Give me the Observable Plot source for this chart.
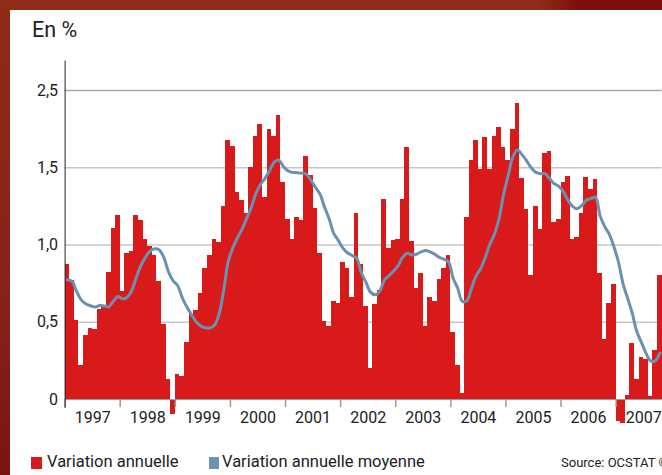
<!DOCTYPE html>
<html><head><meta charset="utf-8">
<script src="https://cdn.jsdelivr.net/npm/d3@7"></script>
<script src="https://cdn.jsdelivr.net/npm/@observablehq/plot@0.6"></script>
<style>
html,body{margin:0;padding:0;overflow:hidden;}
body{width:662px;height:475px;position:relative;background:#fff;font-family:Roboto,sans-serif;color:#222;}
#topbar{position:absolute;left:0;top:0;width:662px;height:10px;background:linear-gradient(to right,#8f2b17 0,#8f2b17 540px,#7c0e0c 580px,#7c0e0c 662px);}
#leftbar{position:absolute;left:0;top:0;width:10px;height:475px;background:linear-gradient(to bottom,#8f2b17 0,#88221a 60%,#7a1411 100%);}
#title{position:absolute;left:32px;top:17px;font-size:21.5px;line-height:26px;white-space:nowrap;}
#chart{position:absolute;left:0;top:50px;}
.leg{position:absolute;top:452px;font-size:16.5px;line-height:20px;white-space:nowrap;}
.sw{position:absolute;top:457px;width:11px;height:12px;}
#source{position:absolute;left:561px;top:455px;font-size:13px;line-height:16px;white-space:nowrap;}
</style>
</head><body>
<div id="topbar"></div>
<div id="leftbar"></div>
<div id="title">En %</div>
<div id="chart"></div>
<div class="sw" style="left:31px;background:#d91a1b"></div>
<div class="leg" style="left:47px">Variation annuelle</div>
<div class="sw" style="left:209px;width:10px;background:#6d93b3"></div>
<div class="leg" style="left:222px">Variation annuelle moyenne</div>
<div id="source">Source: OCSTAT ©</div>
<script>
// Monthly annual variation, Jan 1997 – Oct 2007 (%)
const v1997 = [0.874, 0.77, 0.511, 0.22, 0.414, 0.457, 0.451, 0.58, 0.60, 0.82, 1.107, 1.19];
const v1998 = [0.70, 0.943, 0.956, 1.19, 1.16, 1.036, 0.99, 0.934, 0.764, 0.485, 0.13, -0.095];
const v1999 = [0.16, 0.147, 0.369, 0.55, 0.576, 0.686, 0.848, 0.932, 1.036, 1.016, 1.25, 1.676];
const v2000 = [1.637, 1.34, 1.288, 1.206, 1.50, 1.70, 1.78, 1.31, 1.745, 1.70, 1.84, 1.405];
const v2001 = [1.165, 1.036, 1.178, 1.16, 1.573, 1.45, 1.236, 0.945, 0.505, 0.472, 0.634, 0.62];
const v2002 = [0.887, 0.848, 0.66, 1.204, 0.874, 0.60, 0.20, 0.615, 0.705, 1.294, 0.977, 1.03];
const v2003 = [1.036, 1.294, 1.63, 1.023, 0.718, 0.815, 0.472, 0.66, 0.634, 0.777, 0.848, 0.932];
const v2004 = [0.434, 0.22, 0.04, 1.178, 1.547, 1.676, 1.49, 1.696, 1.49, 1.70, 1.76, 1.63];
const v2005 = [1.547, 1.75, 1.916, 1.428, 1.23, 0.80, 1.25, 1.10, 1.592, 1.605, 1.148, 1.165];
const v2006 = [1.404, 1.445, 1.036, 1.049, 1.206, 1.437, 1.357, 1.424, 0.815, 0.388, 0.621, 0.744];
const v2007 = [-0.14, -0.153, 0.026, 0.362, 0.13, 0.272, 0.259, 0.02, 0.317, 0.80];

// Average annual variation (moving average), same months
const avg = [
  0.775, 0.764, 0.70, 0.645, 0.62, 0.607, 0.598, 0.608, 0.606, 0.60, 0.636, 0.667,
  0.652, 0.662, 0.705, 0.79, 0.867, 0.92, 0.96, 0.975, 0.968, 0.92, 0.828, 0.77,
  0.738, 0.66, 0.60, 0.55, 0.505, 0.475, 0.464, 0.462, 0.48, 0.55, 0.70, 0.89,
  0.98, 1.045, 1.10, 1.17, 1.24, 1.33, 1.39, 1.43, 1.48, 1.535, 1.55, 1.51,
  1.48, 1.47, 1.468, 1.465, 1.46, 1.42, 1.375, 1.33, 1.245, 1.17, 1.075, 1.03,
  0.98, 0.95, 0.932, 0.915, 0.82, 0.76, 0.695, 0.678, 0.70, 0.77, 0.80, 0.83,
  0.865, 0.92, 0.947, 0.935, 0.94, 0.955, 0.965, 0.955, 0.94, 0.92, 0.908, 0.89,
  0.785, 0.72, 0.635, 0.64, 0.72, 0.80, 0.847, 0.92, 1.005, 1.07, 1.17, 1.33,
  1.45, 1.57, 1.615, 1.585, 1.545, 1.50, 1.47, 1.462, 1.462, 1.43, 1.397, 1.38,
  1.345, 1.29, 1.25, 1.235, 1.255, 1.29, 1.30, 1.31, 1.19, 1.12, 1.07, 0.99,
  0.89, 0.75, 0.655, 0.56, 0.44, 0.37, 0.30, 0.25, 0.25, 0.30
];

const years = ["1997","1998","1999","2000","2001","2002","2003","2004","2005","2006","2007"];
const yTickValues = [0, 0.5, 1, 1.5, 2];
const yTickLabels = ["0", "0,5", "1,0", "1,5", "2,5"];

const values = [...v1997, ...v1998, ...v1999, ...v2000, ...v2001, ...v2002, ...v2003, ...v2004, ...v2005, ...v2006, ...v2007];
const bars = values.map((v, i) => ({i, v}));
const line = avg.map((v, i) => ({i: i + 0.5, v}));
const n = values.length;
const yearStarts = years.map((y, k) => k * 12);

const chart = Plot.plot({
  width: 662,
  height: 380,
  marginTop: 0, marginRight: 0, marginBottom: 0, marginLeft: 0,
  style: {fontFamily: "Roboto, sans-serif", fontSize: "16px", color: "#222", background: "transparent", overflow: "visible"},
  x: {type: "linear", domain: [0, n], range: [64.6, 64.6 + n * 4.592], axis: null},
  y: {type: "linear", domain: [0, 2], range: [349, 40], axis: null},
  marks: [
    Plot.ruleY(yTickValues.filter(d => d > 0 && d < 2), {y: d => d, x1: 0, x2: n, stroke: "#c6c6c6", strokeWidth: 1.5}),
    Plot.ruleY([2], {y: d => d, x1: 0, x2: n, stroke: "#a8a8a8", strokeWidth: 1.5}),
    Plot.rect(bars, {x1: "i", x2: d => d.i + 1, y1: 0, y2: "v", fill: "#d91a1b", inset: 0, shapeRendering: "crispEdges"}),
    Plot.ruleY([0], {y: d => d, x1: 0, x2: n, stroke: "#9c9c9c", strokeWidth: 1.2}),
    Plot.ruleX(yearStarts, {x: d => d, y1: 0, y2: -0.052, stroke: "#999", strokeWidth: 1.5}),
    Plot.ruleX([0], {x: d => d, y1: -0.058, y2: 2.19, stroke: "#222", strokeWidth: 1}),
    Plot.line(line, {x: "i", y: "v", curve: "catmull-rom", stroke: "#6b91b1", strokeWidth: 3}),
    Plot.text(yTickValues, {x: 0, y: d => d, text: (d, i) => yTickLabels[i], dx: -7, textAnchor: "end", fontSize: 16, fill: "#222"}),
    Plot.text(years, {x: (d, k) => k * 12 + 6, y: 0, dy: 18, text: d => d, fontSize: 16, fill: "#222"})
  ]
});
document.getElementById("chart").appendChild(chart);
</script>
</body></html>
